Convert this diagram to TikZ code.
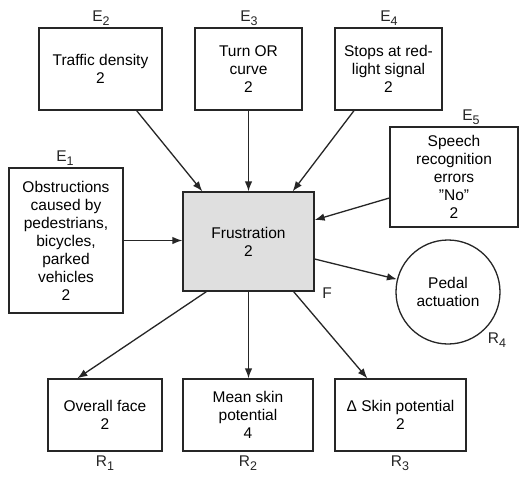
\documentclass[tikz,border=0pt]{standalone}
\usepackage{fontspec}
\setmainfont{Liberation Sans}
\usetikzlibrary{arrows.meta,calc}
\tikzset{
  box/.style={draw=black!85, line width=1.3pt, align=center, inner sep=0pt,
    font=\fontsize{15.5}{18}\selectfont},
  lab/.style={inner sep=0pt, font=\fontsize{15.5}{18}\selectfont, text=black!85},
  arr/.style={draw=black!85, line width=1.3pt, -{Latex[length=10pt,width=7.5pt]}}
}
\newcommand{\sbs}[1]{\raisebox{-4.5pt}{\fontsize{12.5}{12}\selectfont #1}}
\begin{document}
\begin{tikzpicture}[x=1pt,y=-1pt]
\path[use as bounding box, fill=white] (0,0) rectangle (519,477);
% boxes
\node[box, minimum width=123pt, minimum height=82pt] (E2) at (100.5,69) {Traffic density\\2};
\node[box, minimum width=107pt, minimum height=82pt] (E3) at (248.5,69) {Turn OR\\curve\\2};
\node[box, minimum width=107pt, minimum height=82pt] (E4) at (388.5,69) {Stops at red-\\light signal\\2};
\node[box, minimum width=128pt, minimum height=100pt] (E5) at (454,177) {Speech\\recognition\\errors\\\symbol{34}No\symbol{34}\\2};
\node[box, minimum width=114pt, minimum height=145pt] (E1) at (66,240.5) {Obstructions\\caused by\\pedestrians,\\bicycles,\\parked\\vehicles\\2};
\node[box, fill=gray!25, minimum width=131pt, minimum height=99pt] (F) at (248.5,241.5) {Frustration\\2};
\node[box, circle, minimum size=104pt] (R4) at (448,292) {Pedal\\actuation};
\node[box, minimum width=114pt, minimum height=72pt] (R1) at (105,415) {Overall face\\2};
\node[box, minimum width=130pt, minimum height=72pt] (R2) at (248,415) {Mean skin\\potential\\4};
\node[box, minimum width=131pt, minimum height=72pt] (R3) at (400.5,415) {Δ Skin potential\\2};
% labels
\node[lab] (lE1) at (65,158) {E\sbs{1}};
\node[lab] (lE2) at (101,18) {E\sbs{2}};
\node[lab] (lE3) at (249,18) {E\sbs{3}};
\node[lab] (lE4) at (389,18) {E\sbs{4}};
\node[lab] (lE5) at (471,117) {E\sbs{5}};
\node[lab] (lF) at (327,293) {F};
\node[lab] (lR4) at (497,340) {R\sbs{4}};
\node[lab] (lR1) at (105,463) {R\sbs{1}};
\node[lab] (lR2) at (248,463) {R\sbs{2}};
\node[lab] (lR3) at (400,463) {R\sbs{3}};
% arrows
\draw[arr] ([xshift=-26pt]E2.south east) -- ([xshift=20pt]F.north west);
\draw[arr] (E3.south) -- (F.north);
\draw[arr] ([xshift=-34.5pt]E4.south) -- ([xshift=-22pt]F.north east);
\draw[arr] ([yshift=-21pt]E5.west) -- ([yshift=21.5pt]F.east);
\draw[arr] (E1.east) -- (E1.east -| F.west);
\draw[arr] ([yshift=-17.5pt]F.east) -- (R4.166);
\draw[arr] ([xshift=24pt]F.south west) -- ([xshift=30pt]R1.north west);
\draw[arr] (F.south) -- (F.south |- R2.north);
\draw[arr] ([xshift=-21pt]F.south east) -- ([xshift=33pt]R3.north west);
\end{tikzpicture}
\end{document}
